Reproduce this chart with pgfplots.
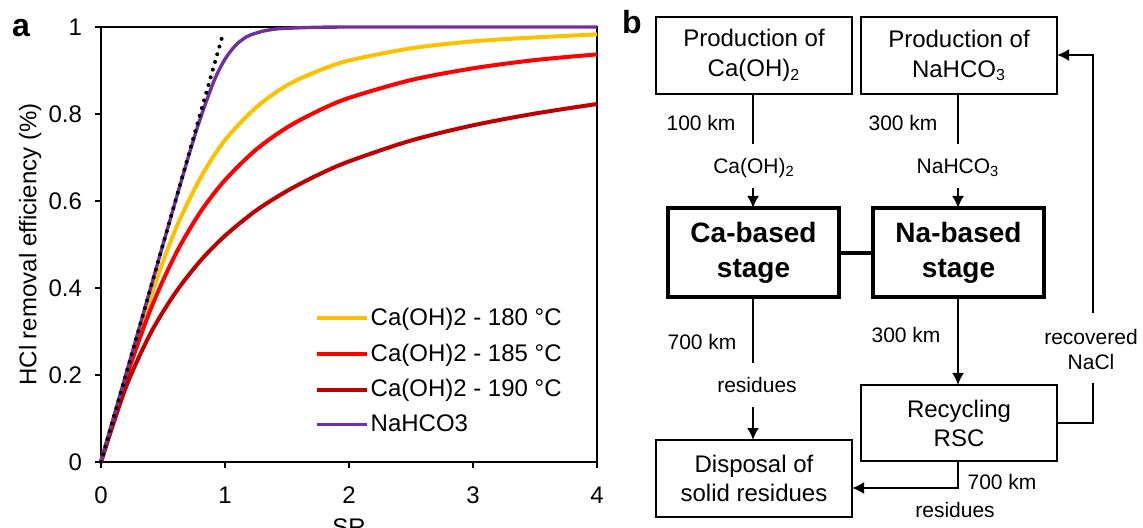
\documentclass[border=0pt]{standalone}
\usepackage{pgfplots}
\pgfplotsset{compat=1.18}
\usepackage{fontspec}
\setmainfont{Liberation Sans}
\usetikzlibrary{arrows.meta}
\definecolor{cyel}{HTML}{FFC000}
\definecolor{cred}{HTML}{FF0000}
\definecolor{cdred}{HTML}{C00000}
\definecolor{cpur}{HTML}{7030A0}
\begin{document}
\begin{tikzpicture}
\begin{axis}[
  at={(50.5pt,-231pt)}, anchor=south west,
  scale only axis, width=248pt, height=217.5pt,
  xmin=0, xmax=4, ymin=0, ymax=1,
  xtick={0,1,2,3,4}, ytick={0,0.2,0.4,0.6,0.8,1},
  xtick pos=lower, ytick pos=left, tick align=outside,
  major tick length=3pt,
  tick style={black, line width=1pt},
  axis line style={black, line width=1pt},
  /pgf/number format/assume math mode=true,
  tick label style={font=\fontsize{12}{14}\selectfont},
  xticklabel style={yshift=-6pt},
  yticklabel style={xshift=-3pt},
  xlabel={SR}, ylabel={HCl removal efficiency (\%)},
  every axis y label/.style={at={(axis description cs:-0.143,0.5)}, rotate=90, anchor=center, font=\fontsize{12}{14}\selectfont},
  xlabel style={yshift=-0.5pt, font=\fontsize{12}{14}\selectfont},
  clip=false,
  legend cell align=left,
  legend style={draw=none, fill=none, at={(0.43,0.373)}, anchor=north west,
    font=\fontsize{12}{14}\selectfont, row sep=3.6pt, inner xsep=0pt,
    nodes={inner xsep=1pt}},
  legend image code/.code={\draw[#1] (0pt,0pt) -- (25pt,0pt);},
]
\addplot[cyel, line width=2pt, smooth] coordinates {
(0,0) (0.2,0.198) (0.4,0.38) (0.6,0.534) (0.8,0.652) (1.0,0.74) (1.25,0.815) (1.5,0.866) (1.75,0.899) (2,0.923) (2.5,0.951) (3,0.967) (3.5,0.976) (4,0.983)};
\addlegendentry{Ca(OH)2 - 180 °C}
\addplot[cred, line width=2pt, smooth] coordinates {
(0,0) (0.2,0.191) (0.4,0.351) (0.6,0.477) (0.8,0.574) (1,0.648) (1.25,0.718) (1.5,0.769) (1.75,0.807) (2,0.837) (2.5,0.878) (3,0.905) (3.5,0.924) (4,0.937)};
\addlegendentry{Ca(OH)2 - 185 °C}
\addplot[cdred, line width=2pt, smooth] coordinates {
(0,0) (0.2,0.171) (0.4,0.296) (0.6,0.389) (0.8,0.462) (1,0.52) (1.25,0.578) (1.5,0.623) (1.75,0.660) (2,0.691) (2.5,0.739) (3,0.774) (3.5,0.801) (4,0.823)};
\addlegendentry{Ca(OH)2 - 190 °C}
\addplot[cpur, line width=1.7pt, smooth] coordinates {
(0,0) (0.5,0.5) (0.7,0.697) (0.8,0.789) (0.9,0.868) (0.95,0.9) (1.0,0.926) (1.05,0.946) (1.1,0.962) (1.15,0.973) (1.2,0.981) (1.3,0.990) (1.4,0.995) (1.5,0.997) (1.7,0.999) (2,1) (3,1) (4,1)};
\addlegendentry{NaHCO3}
\addplot[black, line width=2pt, line cap=round, dash pattern=on 0pt off 4pt, forget plot] coordinates {(0,0) (0.99,0.99)};
\end{axis}
\begin{scope}[x=0.5pt, y=-0.5pt, line width=1pt]
\node[font=\fontsize{16}{18}\selectfont\bfseries] at (21,28) {a};
\node[font=\fontsize{16}{18}\selectfont\bfseries] at (632,22) {b};
% boxes
\draw (656,17) rectangle (852,94);
\node[align=center, font=\fontsize{12}{15}\selectfont] at (754,55.5) {Production of\\Ca(OH)\textsubscript{2}};
\draw (861,17) rectangle (1057,94);
\node[align=center, font=\fontsize{12}{15}\selectfont] at (959,55.5) {Production of\\NaHCO\textsubscript{3}};
\draw[line width=2.2pt] (668,208) rectangle (839,297);
\node[align=center, font=\fontsize{14}{17.5}\selectfont\bfseries] at (753.5,252.5) {Ca-based\\stage};
\draw[line width=2.2pt] (873,208) rectangle (1044,297);
\node[align=center, font=\fontsize{14}{17.5}\selectfont\bfseries] at (958.5,252.5) {Na-based\\stage};
\draw[line width=2.2pt] (839,253) -- (873,253);
\draw (656,440) rectangle (852,517);
\node[align=center, font=\fontsize{12}{14.5}\selectfont] at (754,478.5) {Disposal of\\solid residues};
\draw (861,385) rectangle (1057,461);
\node[align=center, font=\fontsize{12}{14.5}\selectfont] at (959,423) {Recycling\\RSC};
% connections
\draw (753,94) -- (753,144);
\draw[-{Latex[length=6pt,width=6pt]}] (753,188) -- (753,208);
\node[font=\fontsize{10.5}{12}\selectfont] at (701,123) {100 km};
\node[font=\fontsize{10.5}{12}\selectfont] at (754,168) {Ca(OH)\textsubscript{2}};
\draw (958,94) -- (958,144);
\draw[-{Latex[length=6pt,width=6pt]}] (958,188) -- (958,208);
\node[font=\fontsize{10.5}{12}\selectfont] at (903,123) {300 km};
\node[font=\fontsize{10.5}{12}\selectfont] at (958,168) {NaHCO\textsubscript{3}};
\draw (753,297) -- (753,363);
\draw[-{Latex[length=6pt,width=6pt]}] (753,407) -- (753,440);
\node[font=\fontsize{10.5}{12}\selectfont] at (702,342) {700 km};
\node[font=\fontsize{10.5}{12}\selectfont] at (757,385) {residues};
\draw[-{Latex[length=6pt,width=6pt]}] (958,297) -- (958,385);
\node[font=\fontsize{10.5}{12}\selectfont] at (906,335) {300 km};
\draw (1057,423) -- (1093,423) -- (1093,383);
\draw[-{Latex[length=6pt,width=6pt]}] (1093,313) -- (1093,55) -- (1057,55);
\node[align=center, font=\fontsize{10.5}{12.5}\selectfont] at (1091,349.5) {recovered\\NaCl};
\draw[-{Latex[length=6pt,width=6pt]}] (958,461) -- (958,488) -- (852,488);
\node[font=\fontsize{10.5}{12}\selectfont] at (1002,482) {700 km};
\node[font=\fontsize{10.5}{12}\selectfont] at (955,510) {residues};
\end{scope}
\pgfresetboundingbox
\path[use as bounding box] (0,0) rectangle (571.5pt,-264pt);
\end{tikzpicture}
\end{document}
